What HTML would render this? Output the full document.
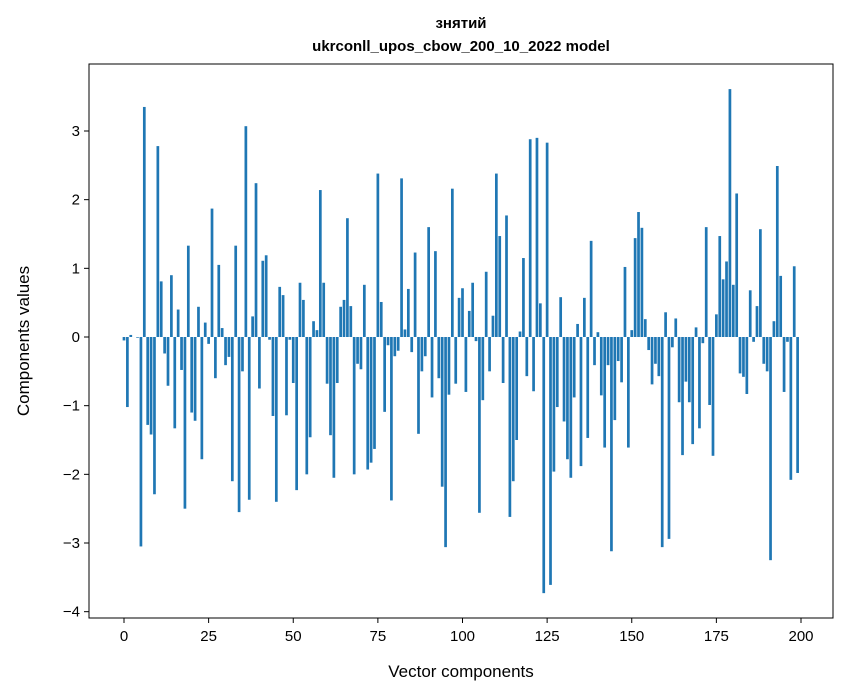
<!DOCTYPE html>
<html><head><meta charset="utf-8"><style>
body{margin:0;background:#fff;}
svg{display:block;font-family:"Liberation Sans","DejaVu Sans",sans-serif;}
</style></head><body>
<svg id="chart" width="847" height="696">
<text x="461" y="28" text-anchor="middle" font-size="15" font-weight="bold">знятий</text>
<text x="461" y="51" text-anchor="middle" font-size="15" font-weight="bold">ukrconll_upos_cbow_200_10_2022 model</text>
<g id="bars"></g>
<rect x="89" y="64" width="744" height="554" fill="none" stroke="#000" stroke-width="1"/>
<g id="xticks"></g>
<g id="yticks"></g>
<text x="461" y="677" text-anchor="middle" font-size="17">Vector components</text>
<text transform="translate(29,341) rotate(-90)" text-anchor="middle" font-size="17">Components values</text>
</svg>
<script>
const values = [-0.05,-1.02,0.03,0,-0.01,-3.05,3.35,-1.28,-1.42,-2.29,
2.78,0.81,-0.24,-0.71,0.9,-1.33,0.4,-0.48,-2.5,1.33,
-1.1,-1.22,0.44,-1.78,0.21,-0.1,1.87,-0.6,1.05,0.13,
-0.41,-0.29,-2.1,1.33,-2.55,-0.5,3.07,-2.37,0.3,2.24,
-0.75,1.11,1.19,-0.04,-1.15,-2.4,0.73,0.61,-1.14,-0.04,
-0.67,-2.23,0.79,0.54,-2.0,-1.46,0.23,0.1,2.14,0.79,
-0.68,-1.43,-2.05,-0.67,0.44,0.54,1.73,0.45,-2.0,-0.39,
-0.47,0.76,-1.93,-1.83,-1.63,2.38,0.51,-1.09,-0.12,-2.38,
-0.28,-0.2,2.31,0.11,0.7,-0.22,1.23,-1.41,-0.5,-0.28,
1.6,-0.88,1.25,-0.6,-2.18,-3.06,-0.84,2.16,-0.68,0.57,
0.71,-0.8,0.38,0.79,-0.06,-2.56,-0.92,0.95,-0.5,0.31,
2.38,1.47,-0.67,1.77,-2.62,-2.1,-1.5,0.08,1.15,-0.57,
2.88,-0.79,2.9,0.49,-3.73,2.83,-3.61,-1.96,-1.02,0.58,
-1.23,-1.78,-2.05,-0.88,0.19,-1.88,0.57,-1.47,1.4,-0.41,
0.07,-0.85,-1.61,-0.41,-3.12,-1.21,-0.35,-0.66,1.02,-1.61,
0.1,1.44,1.82,1.59,0.26,-0.19,-0.69,-0.39,-0.57,-3.06,
0.36,-2.94,-0.15,0.27,-0.95,-1.72,-0.65,-0.95,-1.56,0.14,
-1.33,-0.09,1.6,-0.99,-1.73,0.33,1.47,0.84,1.1,3.61,
0.76,2.09,-0.53,-0.58,-0.83,0.68,-0.07,0.45,1.57,-0.39,
-0.5,-3.25,0.23,2.49,0.89,-0.8,-0.07,-2.08,1.03,-1.98];
const xTickVals = [0,25,50,75,100,125,150,175,200];
const yTickVals = [-4,-3,-2,-1,0,1,2,3];
const NS='http://www.w3.org/2000/svg';
const xs = v => 124 + v*3.385;
const ys = v => 337 - v*68.67;
const bars=document.getElementById('bars');
values.forEach((v,i)=>{
  const r=document.createElementNS(NS,'rect');
  const y0=ys(0), y1=ys(v);
  r.setAttribute('x',xs(i-0.4));
  r.setAttribute('width',0.8*3.385);
  r.setAttribute('y',Math.min(y0,y1));
  r.setAttribute('height',Math.max(Math.abs(y1-y0),0.01));
  r.setAttribute('fill','#1f77b4');
  
  
  bars.appendChild(r);
});
const xg=document.getElementById('xticks');
xTickVals.forEach(t=>{
  const x=xs(t);
  const l=document.createElementNS(NS,'line');
  l.setAttribute('x1',x);l.setAttribute('x2',x);l.setAttribute('y1',618);l.setAttribute('y2',623);l.setAttribute('stroke','#000');
  
  
  xg.appendChild(l);
  const tx=document.createElementNS(NS,'text');
  tx.setAttribute('x',x);tx.setAttribute('y',641);tx.setAttribute('text-anchor','middle');tx.setAttribute('font-size','15');
  tx.textContent=t;
  
  
  xg.appendChild(tx);
});
const yg=document.getElementById('yticks');
yTickVals.forEach(t=>{
  const y=ys(t);
  const l=document.createElementNS(NS,'line');
  l.setAttribute('x1',84);l.setAttribute('x2',89);l.setAttribute('y1',y);l.setAttribute('y2',y);l.setAttribute('stroke','#000');
  
  
  yg.appendChild(l);
  const tx=document.createElementNS(NS,'text');
  tx.setAttribute('x',80);tx.setAttribute('y',y+5);tx.setAttribute('text-anchor','end');tx.setAttribute('font-size','15');
  tx.textContent=t<0?'\u2212'+Math.abs(t):t;
  
  
  yg.appendChild(tx);
});
</script>
</body></html>
